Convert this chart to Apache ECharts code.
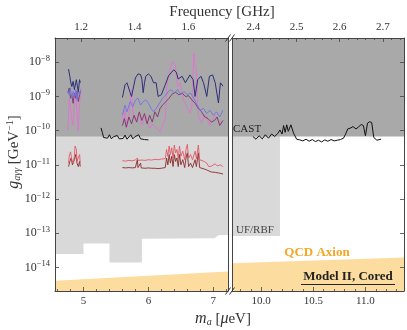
<!DOCTYPE html>
<html><head><meta charset="utf-8">
<script src="https://cdn.jsdelivr.net/npm/echarts@6/dist/echarts.min.js"></script>
<style>html,body{margin:0;padding:0;background:#fff}#c{width:407px;height:330px}</style>
</head><body><div id="c"></div>
<script>
// ---- Axis ranges (m_a in μeV, g in log10 GeV^-1) ----
const leftRange = [4.561, 7.227];
const rightRange = [9.72, 11.37];
const logGRange = [-14.69, -7.29];
const GHZ_PER_UEV = 0.2418;

// ---- Tick labels ----
const yDecades = [-14, -13, -12, -11, -10, -9, -8];
const leftMassTicks = [5, 6, 7];
const leftMassMinor = [4.6, 4.8, 5.2, 5.4, 5.6, 5.8, 6.2, 6.4, 6.6, 6.8, 7.2];
const rightMassTicks = [10.0, 10.5, 11.0];
const rightMassMinor = [9.8, 9.9, 10.1, 10.2, 10.3, 10.4, 10.6, 10.7, 10.8, 10.9, 11.1, 11.2, 11.3];
const leftFreqTicks = [1.2, 1.4, 1.6];
const leftFreqMinor = [1.15, 1.25, 1.3, 1.35, 1.45, 1.5, 1.55, 1.65, 1.7];
const rightFreqTicks = [2.4, 2.5, 2.6, 2.7];
const rightFreqMinor = [2.36, 2.38, 2.42, 2.44, 2.46, 2.48, 2.52, 2.54, 2.56, 2.58, 2.62, 2.64, 2.66, 2.68, 2.72, 2.74];

// ---- Excluded regions ([m_a, log10 g]) ----
const castLimit = -10.17;
const ufrbfLeft = [[4.561,-13.61],[5.0,-13.61],[5.0,-13.30],[5.4,-13.30],[5.4,-13.86],[5.9,-13.86],[5.9,-13.16],[7.02,-13.15],[7.08,-13.06],[7.227,-13.05]];
const ufrbfRight = [[9.72,-13.08],[10.18,-13.08]];
const qcdLeft = [[4.561,-14.39],[7.227,-14.12]];
const qcdRight = [[9.72,-13.88],[11.37,-13.71]];

// ---- Limit curves ([m_a, log10 g]) ----
const navyLeft = [[4.77,-8.20],[4.79,-8.42],[4.80,-8.55],[4.82,-8.71],[4.84,-8.56],[4.86,-8.80],[4.88,-8.60],[4.89,-8.51],[4.91,-8.75],[4.92,-8.86],[4.94,-8.51],[4.95,-8.60]];
const blueLeft = [[4.76,-8.85],[4.78,-8.95],[4.80,-8.75],[4.82,-9.05],[4.84,-8.85],[4.86,-9.00],[4.88,-8.80],[4.90,-9.10],[4.92,-8.85],[4.94,-8.95],[4.96,-8.80]];
const plumLeft = [[4.76,-8.90],[4.78,-8.75],[4.80,-9.05],[4.82,-8.95],[4.84,-9.20],[4.86,-8.90],[4.88,-9.05],[4.90,-8.85],[4.92,-9.15],[4.94,-8.95],[4.95,-8.85]];
const pinkLeft = [[4.76,-10.0],[4.78,-9.05],[4.80,-9.35],[4.82,-9.65],[4.84,-9.85],[4.86,-9.20],[4.88,-8.85],[4.90,-9.50],[4.92,-10.0],[4.94,-9.20],[4.96,-8.75]];

const navyMain = [[5.60,-9.03],[5.64,-8.66],[5.67,-8.60],[5.72,-8.89],[5.74,-9.00],[5.76,-8.95],[5.80,-8.46],[5.84,-8.34],[5.88,-8.36],[5.90,-8.50],[5.92,-8.89],[5.94,-8.60],[5.96,-8.41],[6.00,-8.34],[6.04,-8.41],[6.08,-8.60],[6.12,-8.60],[6.15,-9.00],[6.20,-8.95],[6.26,-8.66],[6.31,-8.40],[6.35,-8.31],[6.39,-8.22],[6.43,-8.29],[6.46,-8.49],[6.52,-8.41],[6.57,-8.60],[6.60,-8.55],[6.64,-8.37],[6.69,-8.51],[6.72,-9.00],[6.76,-8.51],[6.81,-8.41],[6.85,-8.60],[6.90,-9.00],[6.94,-8.41],[6.99,-8.37],[7.03,-8.60],[7.08,-9.19],[7.11,-8.60],[7.15,-8.70]];
const blueMain = [[5.60,-9.55],[5.64,-9.25],[5.67,-9.45],[5.72,-9.15],[5.76,-9.30],[5.80,-9.10],[5.84,-9.05],[5.88,-9.25],[5.92,-9.15],[5.96,-9.10],[6.00,-9.20],[6.04,-9.35],[6.08,-9.45],[6.12,-9.35],[6.17,-9.20],[6.22,-9.05],[6.27,-8.95],[6.31,-8.85],[6.35,-8.80],[6.40,-8.90],[6.45,-8.80],[6.50,-8.95],[6.55,-8.85],[6.60,-8.95],[6.65,-8.90],[6.70,-9.05],[6.75,-9.25],[6.80,-9.40],[6.85,-9.35],[6.90,-9.50],[6.95,-9.40],[7.00,-9.55],[7.05,-9.45],[7.10,-9.60],[7.15,-9.40]];
const plumMain = [[5.60,-9.85],[5.63,-9.65],[5.66,-9.90],[5.70,-9.60],[5.74,-9.80],[5.78,-9.55],[5.82,-9.75],[5.86,-9.45],[5.90,-9.70],[5.94,-9.50],[5.98,-9.80],[6.02,-9.55],[6.06,-9.75],[6.10,-9.45],[6.14,-9.60],[6.18,-9.35],[6.22,-9.25],[6.27,-9.15],[6.32,-9.05],[6.37,-8.92],[6.42,-8.88],[6.47,-8.95],[6.52,-8.90],[6.57,-9.00],[6.62,-8.98],[6.67,-9.10],[6.72,-9.20],[6.77,-9.35],[6.82,-9.45],[6.87,-9.60],[6.92,-9.65],[6.97,-9.75],[7.02,-9.70],[7.06,-9.60],[7.10,-9.85],[7.15,-9.70]];
const pinkMain = [[5.60,-9.59],[5.62,-9.75],[5.64,-9.39],[5.67,-9.88],[5.70,-9.55],[5.72,-9.19],[5.74,-8.80],[5.76,-9.45],[5.80,-9.70],[5.83,-9.73],[5.86,-9.50],[5.90,-9.83],[5.94,-9.65],[5.97,-9.59],[6.00,-9.85],[6.02,-9.93],[6.06,-9.80],[6.10,-9.88],[6.14,-9.95],[6.18,-10.03],[6.22,-9.85],[6.26,-9.63],[6.29,-8.61],[6.33,-8.22],[6.37,-7.98],[6.41,-8.07],[6.45,-8.71],[6.49,-8.60],[6.54,-9.10],[6.59,-9.29],[6.64,-9.49],[6.67,-9.30],[6.70,-7.73],[6.72,-8.10],[6.74,-8.22],[6.77,-9.59],[6.82,-9.78],[6.86,-9.55],[6.90,-9.59],[6.94,-9.85],[6.98,-9.73],[7.02,-9.55],[7.06,-9.63],[7.10,-9.80],[7.13,-9.73]];

const redLeft = [[4.77,-10.95],[4.78,-10.75],[4.80,-10.62],[4.82,-10.85],[4.84,-10.95],[4.86,-10.75],[4.87,-10.45],[4.89,-10.55],[4.90,-10.90],[4.92,-10.85],[4.94,-10.70],[4.95,-10.95]];
const darkRedLeft = [[4.77,-11.05],[4.79,-10.90],[4.81,-10.80],[4.83,-11.00],[4.85,-11.05],[4.86,-10.85],[4.88,-10.70],[4.90,-10.95],[4.92,-11.05],[4.94,-10.90],[4.95,-11.05]];
const redMain = [[5.60,-10.88],[5.65,-10.89],[5.70,-10.87],[5.75,-10.88],[5.80,-10.86],[5.83,-10.80],[5.84,-10.87],[5.90,-10.86],[5.95,-10.87],[6.00,-10.85],[6.05,-10.86],[6.10,-10.84],[6.15,-10.85],[6.20,-10.83],[6.26,-10.82],[6.28,-10.55],[6.30,-10.75],[6.32,-10.45],[6.34,-10.70],[6.36,-10.50],[6.38,-10.80],[6.40,-10.42],[6.42,-10.65],[6.44,-10.55],[6.46,-10.82],[6.48,-10.45],[6.50,-10.75],[6.53,-10.60],[6.56,-10.85],[6.58,-10.55],[6.60,-10.40],[6.62,-10.80],[6.65,-10.70],[6.68,-10.85],[6.72,-10.60],[6.74,-10.82],[6.77,-10.42],[6.79,-10.85],[6.82,-10.88],[6.86,-10.90],[6.90,-10.95],[6.93,-11.05],[6.97,-11.04],[7.00,-11.02],[7.03,-10.97],[7.06,-11.03],[7.09,-11.04],[7.12,-11.00],[7.15,-11.06]];
const darkRedMain = [[5.60,-11.08],[5.65,-11.09],[5.70,-11.08],[5.75,-11.09],[5.80,-11.08],[5.83,-10.85],[5.84,-11.08],[5.87,-11.05],[5.88,-10.95],[5.89,-11.09],[5.95,-11.10],[6.00,-11.09],[6.05,-11.10],[6.10,-11.10],[6.15,-11.11],[6.20,-11.10],[6.26,-11.08],[6.28,-10.80],[6.30,-11.00],[6.32,-10.70],[6.34,-10.95],[6.36,-10.75],[6.38,-11.05],[6.40,-10.70],[6.42,-10.90],[6.44,-10.80],[6.46,-11.05],[6.48,-10.70],[6.50,-11.00],[6.53,-10.85],[6.56,-11.08],[6.58,-10.80],[6.60,-10.65],[6.62,-11.05],[6.65,-10.95],[6.68,-11.08],[6.72,-10.85],[6.74,-11.05],[6.77,-10.65],[6.79,-11.08],[6.82,-11.10],[6.86,-11.12],[6.90,-11.15],[6.93,-11.20],[6.97,-11.21],[7.00,-11.20],[7.03,-11.22],[7.06,-11.21],[7.09,-11.24],[7.12,-11.25],[7.15,-11.27]];

const blackLeft = [[5.27,-9.92],[5.29,-10.05],[5.31,-10.20],[5.34,-10.17],[5.37,-10.22],[5.40,-10.12],[5.43,-10.24],[5.46,-10.18],[5.49,-10.22],[5.52,-10.14],[5.55,-10.24],[5.58,-10.19],[5.61,-10.23],[5.64,-10.13],[5.67,-10.25],[5.70,-10.20],[5.73,-10.12],[5.76,-10.24],[5.79,-10.18],[5.82,-10.22],[5.85,-10.12],[5.88,-10.24],[5.91,-10.20],[5.94,-10.26],[5.97,-10.22],[6.00,-10.27]];
const blackRight = [[9.92,-10.17],[9.95,-10.25],[9.98,-10.15],[10.01,-10.24],[10.04,-10.12],[10.07,-10.22],[10.10,-10.10],[10.13,-10.17],[10.16,-10.08],[10.18,-9.98],[10.20,-10.10],[10.215,-9.85],[10.23,-10.05],[10.245,-9.83],[10.26,-10.02],[10.285,-9.83],[10.31,-10.07],[10.34,-10.25],[10.37,-10.27],[10.40,-10.30],[10.43,-10.25],[10.46,-10.31],[10.49,-10.26],[10.52,-10.32],[10.55,-10.28],[10.58,-10.33],[10.61,-10.27],[10.64,-10.31],[10.67,-10.26],[10.70,-10.30],[10.73,-10.28],[10.76,-10.26],[10.79,-10.22],[10.81,-10.10],[10.83,-9.95],[10.86,-9.92],[10.88,-9.88],[10.91,-9.95],[10.93,-9.90],[10.96,-9.82],[10.98,-9.85],[11.00,-10.15],[11.02,-9.78],[11.04,-9.74],[11.06,-9.76],[11.08,-10.20],[11.11,-10.28],[11.15,-10.25]];

// ---- Styling ----
const FONT = '"Liberation Serif", "DejaVu Serif", serif';
const FRAME = '#444';
const TXT = '#333';
const C = {
  dark: '#a9a9a9', light: '#d9d9d9', qcd: '#fddca0', qcdText: '#f5a623',
  navy: '#2c2f78', blue: '#6f73e6', plum: '#7d3568', pink: '#e46fd6',
  red: '#e05a66', darkRed: '#8c2a2a', black: '#111111'
};

const chart = echarts.init(document.getElementById('c'), null, {renderer: 'canvas'});

function xAx(grid, pos, range, major, minor, isMinor, fmt) {
  return {
    type: 'value', gridIndex: grid, position: pos, min: range[0], max: range[1], z: 10,
    axisLine: {show: !isMinor, lineStyle: {color: FRAME, width: 1}},
    axisTick: {show: true, inside: true, length: isMinor ? 2 : 4, customValues: isMinor ? minor : major, lineStyle: {color: FRAME, width: 0.8}},
    axisLabel: isMinor ? {show: false} : {show: true, customValues: major, fontFamily: FONT, fontSize: 11, color: TXT, margin: 5, formatter: fmt},
    splitLine: {show: false}
  };
}
function yAx(grid, pos, ticks, labels) {
  return {
    type: 'value', gridIndex: grid, position: pos, min: logGRange[0], max: logGRange[1], z: 10,
    axisLine: {show: true, lineStyle: {color: FRAME, width: 1}},
    axisTick: {show: ticks, inside: true, length: 4, customValues: yDecades, lineStyle: {color: FRAME, width: 0.8}},
    axisLabel: labels ? {
      show: true, customValues: yDecades, margin: 5,
      formatter: v => '{b|10}{s|−' + Math.round(Math.abs(v)) + '}',
      rich: {
        b: {fontFamily: FONT, fontSize: 12, color: TXT},
        s: {fontFamily: FONT, fontSize: 8.5, color: TXT, padding: [0, 0, 7, 0]}
      }
    } : {show: false},
    splitLine: {show: false}
  };
}
const f1 = v => (Math.round(v * 10) / 10).toFixed(1);
const f0 = v => String(Math.round(v));

const leftFreqRange = [leftRange[0] * GHZ_PER_UEV, leftRange[1] * GHZ_PER_UEV];
const rightFreqRange = [rightRange[0] * GHZ_PER_UEV, rightRange[1] * GHZ_PER_UEV];

const xAxis = [
  xAx(0, 'bottom', leftRange, leftMassTicks, leftMassMinor, false, f0),
  xAx(0, 'bottom', leftRange, leftMassTicks, leftMassMinor, true),
  xAx(0, 'top', leftFreqRange, leftFreqTicks, leftFreqMinor, false, f1),
  xAx(0, 'top', leftFreqRange, leftFreqTicks, leftFreqMinor, true),
  xAx(1, 'bottom', rightRange, rightMassTicks, rightMassMinor, false, f1),
  xAx(1, 'bottom', rightRange, rightMassTicks, rightMassMinor, true),
  xAx(1, 'top', rightFreqRange, rightFreqTicks, rightFreqMinor, false, f1),
  xAx(1, 'top', rightFreqRange, rightFreqTicks, rightFreqMinor, true)
];
const yAxis = [
  yAx(0, 'left', true, true),
  yAx(1, 'right', true, false),
  yAx(0, 'right', false, false),
  yAx(1, 'left', false, false)
];

function area(data, color, panel, origin, z) {
  return {type: 'line', xAxisIndex: panel === 0 ? 0 : 4, yAxisIndex: panel, data: data,
    symbol: 'none', silent: true, animation: false, z: z,
    lineStyle: {width: 0, opacity: 0}, areaStyle: {color: color, opacity: 1, origin: origin}};
}
function curve(data, color, panel, opacity) {
  return {type: 'line', xAxisIndex: panel === 0 ? 0 : 4, yAxisIndex: panel, data: data,
    symbol: 'none', silent: true, animation: false, z: 5,
    lineStyle: {color: color, width: 1, opacity: opacity == null ? 1 : opacity}};
}

const series = [
  area(ufrbfLeft, C.light, 0, 'end', 1),
  area([[leftRange[0], castLimit], [leftRange[1], castLimit]], C.dark, 0, 'end', 2),
  area(qcdLeft, C.qcd, 0, 'start', 2),
  area(ufrbfRight, C.light, 1, 'end', 1),
  area([[rightRange[0], castLimit], [rightRange[1], castLimit]], C.dark, 1, 'end', 2),
  area(qcdRight, C.qcd, 1, 'start', 2),
  curve(blackLeft, C.black, 0),
  curve(blackRight, C.black, 1),
  curve(pinkLeft, C.pink, 0, 0.85),
  curve(pinkMain, C.pink, 0, 0.85),
  curve(plumLeft, C.plum, 0, 0.9),
  curve(plumMain, C.plum, 0, 0.9),
  curve(blueLeft, C.blue, 0, 0.9),
  curve(blueMain, C.blue, 0, 0.9),
  curve(navyLeft, C.navy, 0),
  curve(navyMain, C.navy, 0),
  curve(darkRedLeft, C.darkRed, 0, 0.9),
  curve(darkRedMain, C.darkRed, 0, 0.9),
  curve(redLeft, C.red, 0, 0.9),
  curve(redMain, C.red, 0, 0.9)
];

function slash(cx, cy) {
  return {type: 'line', z: 100, shape: {x1: cx - 2.5, y1: cy + 3.5, x2: cx + 2.5, y2: cy - 3.5},
    style: {stroke: '#333', lineWidth: 1}};
}

const graphic = [
  slash(228, 38), slash(232, 38), slash(228, 291), slash(232, 291),
  {type: 'text', x: 222, y: 12, z: 100, style: {text: 'Frequency [GHz]', fontFamily: FONT, fontSize: 15, fill: TXT, align: 'center', verticalAlign: 'middle'}},
  {type: 'text', x: 223, y: 319, z: 100, style: {
    text: '{i|m}{sub|a} [{i|μ}eV]', fontFamily: FONT, fontSize: 15, fill: TXT, align: 'center', verticalAlign: 'middle',
    rich: {i: {fontFamily: FONT, fontSize: 16, fontStyle: 'italic', fill: TXT}, sub: {fontFamily: FONT, fontSize: 10, fontStyle: 'italic', fill: TXT, padding: [6, 0, 0, 0]}}}},
  {type: 'text', x: 14, y: 152, rotation: Math.PI / 2, z: 100, style: {
    text: '{i|g}{sub|aγγ} [GeV{sup|−1}]', fontFamily: FONT, fontSize: 15, fill: TXT, align: 'center', verticalAlign: 'middle',
    rich: {i: {fontFamily: FONT, fontSize: 16, fontStyle: 'italic', fill: TXT}, sub: {fontFamily: FONT, fontSize: 10, fontStyle: 'italic', fill: TXT, padding: [7, 0, 0, 0]}, sup: {fontFamily: FONT, fontSize: 10, fill: TXT, padding: [0, 0, 8, 0]}}}},
  {type: 'text', x: 233, y: 129, z: 100, style: {text: 'CAST', fontFamily: FONT, fontSize: 11, fill: '#222', align: 'left', verticalAlign: 'middle'}},
  {type: 'text', x: 236, y: 230, z: 100, style: {text: 'UF/RBF', fontFamily: FONT, fontSize: 11, fill: '#444', align: 'left', verticalAlign: 'middle'}},
  {type: 'text', x: 317, y: 253, z: 100, style: {text: 'QCD Axion', fontFamily: FONT, fontSize: 13, fontWeight: 'bold', fill: C.qcdText, align: 'center', verticalAlign: 'middle'}},
  {type: 'text', x: 348, y: 277, z: 100, style: {text: 'Model II, Cored', fontFamily: FONT, fontSize: 13, fontWeight: 'bold', fill: '#222', align: 'center', verticalAlign: 'middle'}},
  {type: 'line', z: 100, shape: {x1: 301, y1: 284.5, x2: 395, y2: 284.5}, style: {stroke: '#222', lineWidth: 1}}
];

chart.setOption({
  animation: false,
  backgroundColor: '#fff',
  grid: [
    {left: 55, top: 38, width: 173, height: 253, containLabel: false},
    {left: 232, top: 38, width: 172, height: 253, containLabel: false}
  ],
  xAxis: xAxis,
  yAxis: yAxis,
  series: series,
  graphic: graphic
});
</script></body></html>
